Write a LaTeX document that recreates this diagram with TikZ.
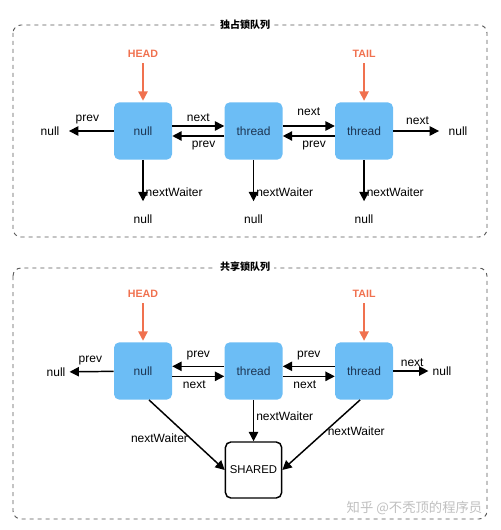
\documentclass[tikz,border=0pt]{standalone}
\usepackage{fontspec}
\setmainfont{Liberation Sans}
\newfontfamily\cjkfont{Noto Sans CJK SC}
\usetikzlibrary{arrows.meta,positioning}
\definecolor{nodeblue}{HTML}{6CBDF5}
\definecolor{nodetext}{HTML}{1D3552}
\definecolor{ptrorange}{HTML}{F0714F}
\tikzset{
  qnode/.style={fill=nodeblue,rounded corners=4pt,minimum width=43.5pt,minimum height=43pt,align=center,font=\fontsize{9}{10}\selectfont,text=nodetext},
  shared/.style={draw=black,line width=1.1pt,fill=white,rounded corners=4pt,minimum width=42pt,minimum height=42pt,font=\fontsize{8.5}{10}\selectfont},
  plain/.style={font=\fontsize{9}{10}\selectfont,inner sep=1pt},
  ptrlbl/.style={font=\bfseries\fontsize{8}{10}\selectfont,text=ptrorange,inner sep=1pt},
  lbl/.style={font=\fontsize{9}{10}\selectfont,inner sep=1.5pt},
  link/.style={-{Triangle[length=7pt,width=7pt]},line width=1.1pt},
  ptr/.style={-{Triangle[length=7pt,width=7pt]},line width=1.1pt,draw=ptrorange},
  frame/.style={draw=black!65,dashed,line width=0.7pt,rounded corners=6pt},
  title/.style={fill=white,font=\cjkfont\bfseries\fontsize{7.5}{8}\selectfont,inner xsep=3pt}
}
\begin{document}
\begin{tikzpicture}[x=0.75pt,y=-0.75pt,node distance=39pt]
  \useasboundingbox (0,0) rectangle (500,530);
  % exclusive queue
  \draw[frame] (13,25) rectangle (487,237);
  \node[title] (titleA) at (245,25) {独占锁队列};
  \node[qnode] (headA) at (143,131) {null};
  \node[qnode,right=of headA] (midA) {thread};
  \node[qnode,right=of midA] (tailA) {thread};
  \node[ptrlbl,above=32pt of headA] (hlblA) {HEAD};
  \node[ptrlbl,above=32pt of tailA] (tlblA) {TAIL};
  \node[plain] (nullAl) at (50,131) {null};
  \node[plain] (nullAr) at (458,131) {null};
  \node[plain,below=40pt of headA] (nullA1) {null};
  \node[plain,below=40pt of midA] (nullA2) {null};
  \node[plain,below=40pt of tailA] (nullA3) {null};
  \draw[ptr,shorten <=3pt,shorten >=1pt] (hlblA) -- (headA);
  \draw[ptr,shorten <=3pt,shorten >=1pt] (tlblA) -- (tailA);
  \draw[link,shorten >=6pt] (headA) -- node[lbl,above,yshift=3pt]{prev} (nullAl);
  \draw[link,shorten >=6pt] (tailA) -- node[lbl,above,yshift=3pt,xshift=-2pt]{next} (nullAr);
  \draw[link] ([yshift=3.75pt]headA.east) -- node[lbl,above,yshift=1pt]{next} ([yshift=3.75pt]midA.west);
  \draw[link] ([yshift=-3.75pt]midA.west) -- node[lbl,below,yshift=-2pt,xshift=4pt]{prev} ([yshift=-3.75pt]headA.east);
  \draw[link] ([yshift=3.75pt]midA.east) -- node[lbl,above,yshift=6pt]{next} ([yshift=3.75pt]tailA.west);
  \draw[link] ([yshift=-3.75pt]tailA.west) -- node[lbl,below,yshift=-2pt,xshift=4pt]{prev} ([yshift=-3.75pt]midA.east);
  \draw[link,shorten >=9pt] (headA) -- node[lbl,right,pos=0.6]{nextWaiter} (nullA1);
  \draw[link,shorten >=9pt] (midA) -- node[lbl,right,pos=0.6]{nextWaiter} (nullA2);
  \draw[link,shorten >=9pt] (tailA) -- node[lbl,right,pos=0.6]{nextWaiter} (nullA3);
  % shared queue
  \draw[frame] (13,268) rectangle (487,519);
  \node[title] (titleB) at (245,267) {共享锁队列};
  \node[qnode] (headB) at (143,371) {null};
  \node[qnode,right=of headB] (midB) {thread};
  \node[qnode,right=of midB] (tailB) {thread};
  \node[ptrlbl,above=32pt of headB] (hlblB) {HEAD};
  \node[ptrlbl,above=32pt of tailB] (tlblB) {TAIL};
  \node[plain] (nullBl) at (56,372) {null};
  \node[plain] (nullBr) at (442,371) {null};
  \node[shared,below=31pt of midB] (shr) {SHARED};
  \draw[ptr,shorten <=3pt,shorten >=1pt] (hlblB) -- (headB);
  \draw[ptr,shorten <=3pt,shorten >=1pt] (tlblB) -- (tailB);
  \draw[link,shorten >=2pt] (headB) -- node[lbl,above,yshift=3pt]{prev} (nullBl);
  \draw[link,shorten >=2pt] (tailB) -- node[lbl,above,yshift=1pt]{next} (nullBr);
  \draw[link] ([yshift=3.5pt]midB.west) -- node[lbl,above,yshift=3pt]{prev} ([yshift=3.5pt]headB.east);
  \draw[link] ([yshift=-4pt]headB.east) -- node[lbl,below,yshift=-1pt,xshift=-3pt]{next} ([yshift=-4pt]midB.west);
  \draw[link] ([yshift=3.5pt]tailB.west) -- node[lbl,above,yshift=3pt]{prev} ([yshift=3.5pt]midB.east);
  \draw[link] ([yshift=-4pt]midB.east) -- node[lbl,below,yshift=-1pt,xshift=-3pt]{next} ([yshift=-4pt]tailB.west);
  \draw[link] ([xshift=4.5pt]headB.south) -- node[lbl,left,pos=0.55]{nextWaiter} (shr.west);
  \draw[link] (midB.south) -- node[lbl,right,pos=0.4]{nextWaiter} (shr.north);
  \draw[link] ([xshift=-3pt]tailB.south) -- node[lbl,right,pos=0.45]{nextWaiter} (shr.east);
  \node[text=black!25,font=\cjkfont\fontsize{10}{12}\selectfont,anchor=east] (mark) at (487,508) {知乎 @不秃顶的程序员};
\end{tikzpicture}
\end{document}
